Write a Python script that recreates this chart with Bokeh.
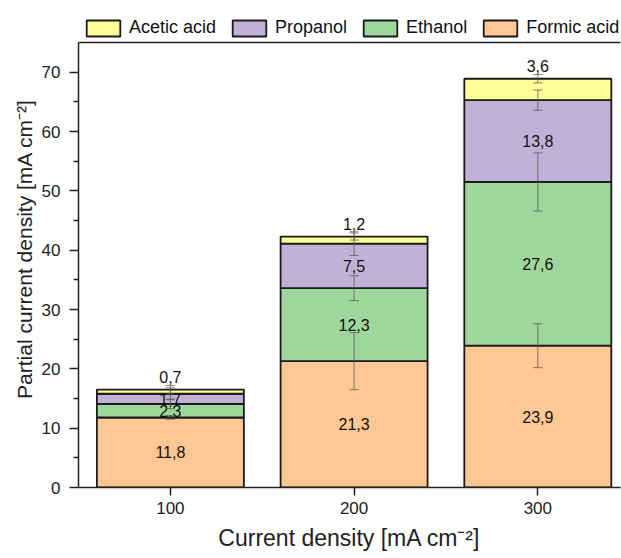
from bokeh.plotting import figure
from bokeh.models import (ColumnDataSource, Whisker, Legend, LegendItem, Span,
                          Range1d, FixedTicker, TeeHead)
from bokeh.embed import file_html
from bokeh.resources import INLINE
from bokeh.core.properties import value

# ---- data ----
current = [100, 200, 300]
formic = [11.8, 21.3, 23.9]
ethanol = [2.3, 12.3, 27.6]
propanol = [1.7, 7.5, 13.8]
acetic = [0.7, 1.2, 3.6]
formic_err = [0.3, 4.8, 3.7]
ethanol_err = [0.8, 2.1, 4.9]
propanol_err = [1.0, 2.0, 1.7]
acetic_err = [0.7, 0.6, 0.7]
species = ["Formic acid", "Ethanol", "Propanol", "Acetic acid"]
colors = ["#FEC794", "#9ED69B", "#C2B0D6", "#FEFD98"]
x_ticks = [100, 200, 300]
y_ticks = [0, 10, 20, 30, 40, 50, 60, 70]
y_max = 75          # top of the axes box
y_view = 80.4       # extra room above the box for the legend

FONT = "Liberation Sans"
series = [formic, ethanol, propanol, acetic]
errors = [formic_err, ethanol_err, propanol_err, acetic_err]

p = figure(width=621, height=558, x_range=Range1d(50, 345), y_range=Range1d(0, y_view),
           output_backend="svg", toolbar_location=None,
           min_border_left=78, min_border_right=1, min_border_bottom=71, min_border_top=10)
p.xgrid.grid_line_color = None
p.ygrid.grid_line_color = None
p.outline_line_color = None

bottoms = [0.0, 0.0, 0.0]
renderers = []
label_x, label_y, label_t = [], [], []
top_x, top_y, top_t = [], [], []
whisk = []
for name, vals, errs, col in zip(species, series, errors, colors):
    tops = [b + v for b, v in zip(bottoms, vals)]
    src = ColumnDataSource(dict(x=current, bottom=bottoms, top=tops))
    r = p.vbar(x="x", width=80, bottom="bottom", top="top", source=src,
               fill_color=col, line_color="#1a1a1a", line_width=1.8)
    renderers.append((name, r))
    whisk.append(ColumnDataSource(dict(x=current,
                                       upper=[t + e for t, e in zip(tops, errs)],
                                       lower=[t - e for t, e in zip(tops, errs)])))
    for xi, b, v, t in zip(current, bottoms, vals, tops):
        txt = f"{v:.1f}".replace(".", ",")
        if name == "Acetic acid":
            top_x.append(xi); top_y.append(t); top_t.append(txt)
        else:
            label_x.append(xi); label_y.append(b + v / 2); label_t.append(txt)
    bottoms = tops

p.text(x=label_x, y=label_y, text=label_t, text_align="center", text_baseline="middle",
       text_font=value(FONT), text_font_size="16px", text_color="#111111")
p.text(x=top_x, y=top_y, text=top_t, text_align="center", text_baseline="bottom",
       y_offset=-7, text_font=value(FONT), text_font_size="16px", text_color="#111111")

for ws in whisk:
    w = Whisker(base="x", upper="upper", lower="lower", source=ws, level="annotation",
                line_color="#555555", line_alpha=0.75, line_width=1,
                upper_head=TeeHead(size=9, line_color="#555555", line_alpha=0.75, line_width=1),
                lower_head=TeeHead(size=9, line_color="#555555", line_alpha=0.75, line_width=1))
    p.add_layout(w)

# top frame line
p.add_layout(Span(location=y_max, dimension="width", line_color="#222222", line_width=1.5))

# axes
for ax in (p.xaxis[0], p.yaxis[0]):
    ax.axis_line_width = 1.5
    ax.axis_line_color = "#222222"
    ax.major_tick_line_color = "#222222"
    ax.major_tick_line_width = 1.5
    ax.minor_tick_line_color = "#222222"
    ax.minor_tick_line_width = 1.5
    ax.major_tick_in = 0
    ax.minor_tick_in = 0
    ax.major_label_text_font = FONT
    ax.major_label_text_font_size = "17px"
    ax.major_label_text_color = "#222222"
    ax.axis_label_text_font = FONT
    ax.axis_label_text_font_style = "normal"
    ax.axis_label_text_color = "#222222"

p.xaxis.ticker = FixedTicker(ticks=x_ticks)
p.xaxis.major_tick_out = 8
p.xaxis.minor_tick_line_color = None
p.xaxis.major_label_standoff = 6
p.xaxis.axis_label = "Current density [mA cm\u207b\u00b2]"
p.xaxis.axis_label_text_font_size = "23px"
p.xaxis.axis_label_standoff = 8

p.yaxis.bounds = (0, y_max)
p.yaxis.ticker = FixedTicker(ticks=y_ticks, minor_ticks=[t + 5 for t in y_ticks[:-1]])
p.yaxis.major_tick_out = 9
p.yaxis.minor_tick_out = 5
p.yaxis.major_label_standoff = 9
p.yaxis.axis_label = "Partial current density [mA cm\u207b\u00b2]"
p.yaxis.axis_label_text_font_size = "21px"
p.yaxis.axis_label_standoff = 3

legend_items = [LegendItem(label=n, renderers=[r]) for n, r in reversed(renderers)]
legend = Legend(items=legend_items, orientation="horizontal", location=(4, 449),
                glyph_width=42, glyph_height=20, label_standoff=5, spacing=12,
                padding=0, margin=0, border_line_color=None, background_fill_alpha=0,
                label_text_font=FONT, label_text_font_size="18px", label_text_color="#111111")
p.add_layout(legend)

open("out.html", "w").write(file_html(p, INLINE))
